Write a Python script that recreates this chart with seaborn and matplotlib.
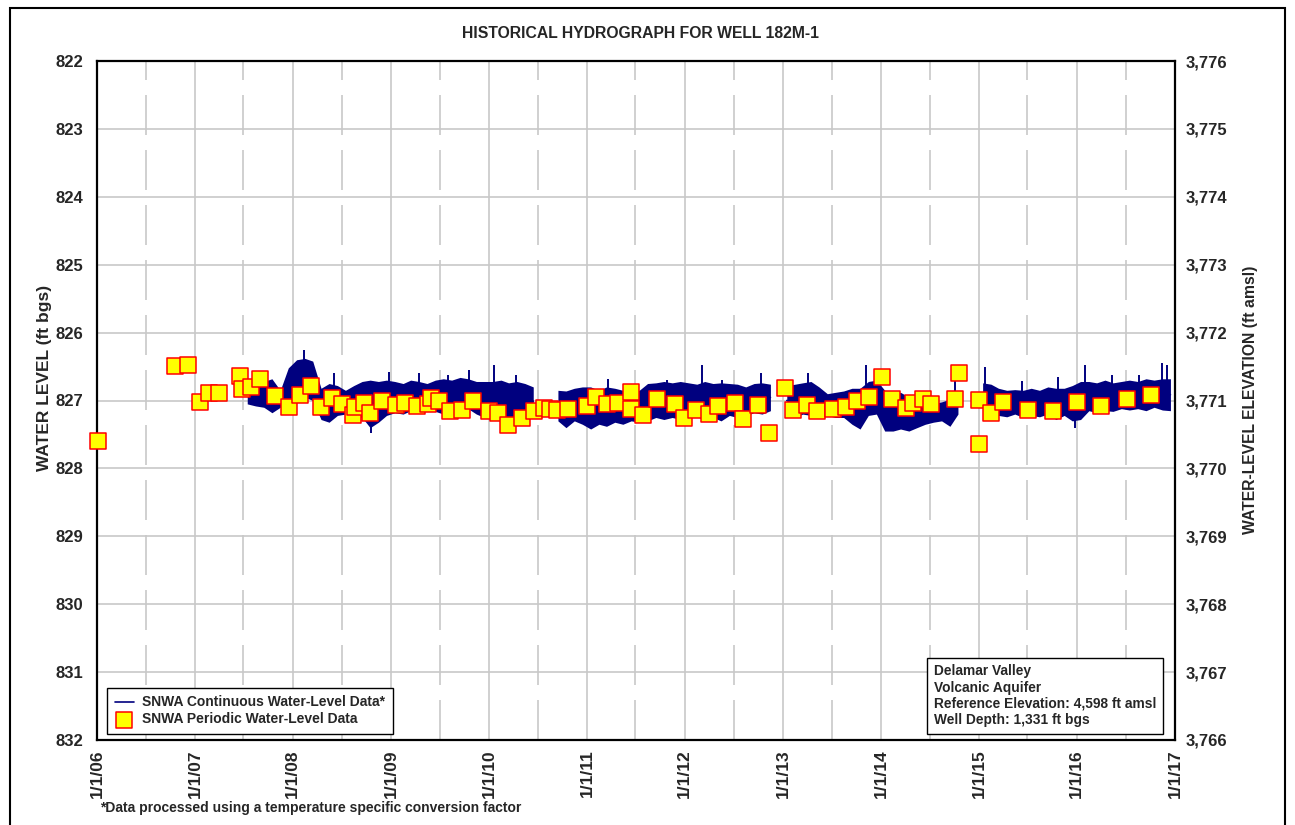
import numpy as np
import pandas as pd
import matplotlib
matplotlib.use("Agg")
import matplotlib.pyplot as plt
import matplotlib.dates as mdates
from matplotlib.patches import Rectangle
from matplotlib.ticker import MultipleLocator, FuncFormatter
import seaborn as sns

sns.set_style("white")
plt.rcParams['font.family'] = ['Liberation Sans', 'DejaVu Sans']
plt.rcParams['font.weight'] = 'bold'

# periodic (manual) measurements, ft bgs
periodic_dates = [
    "2006-01-05", "2006-10-18", "2006-12-05", "2007-01-19", "2007-02-22", "2007-03-31",
    "2007-06-17", "2007-06-24", "2007-07-28", "2007-08-31", "2007-10-25", "2007-12-16",
    "2008-01-26", "2008-03-07", "2008-04-14", "2008-05-25", "2008-07-04", "2008-08-11",
    "2008-08-19", "2008-09-21", "2008-10-13", "2008-11-27", "2009-01-19", "2009-02-22",
    "2009-04-07", "2009-05-18", "2009-05-29", "2009-06-28", "2009-08-08", "2009-09-22",
    "2009-11-02", "2010-01-01", "2010-02-03", "2010-03-12", "2010-05-03", "2010-06-17",
    "2010-07-24", "2010-08-15", "2010-09-11", "2010-10-22", "2011-01-01", "2011-02-03",
    "2011-03-16", "2011-04-26", "2011-06-13", "2011-06-14", "2011-07-28", "2011-09-18",
    "2011-11-24", "2011-12-28", "2012-02-11", "2012-03-30", "2012-05-03", "2012-07-05",
    "2012-08-04", "2012-09-29", "2012-11-09", "2013-01-08", "2013-02-07", "2013-03-31",
    "2013-05-07", "2013-07-05", "2013-08-23", "2013-10-03", "2013-11-17", "2014-01-04",
    "2014-02-11", "2014-04-04", "2014-04-30", "2014-06-06", "2014-07-05", "2014-10-03",
    "2014-10-18", "2015-01-01", "2015-01-02", "2015-02-14", "2015-03-31", "2015-07-02",
    "2015-10-03", "2016-01-01", "2016-03-30", "2016-07-05", "2016-10-03",
]
periodic_levels = [
    827.60, 826.49, 826.47, 827.02, 826.89, 826.89,
    826.64, 826.83, 826.80, 826.68, 826.93, 827.10,
    826.92, 826.79, 827.10, 826.96, 827.05, 827.21,
    827.10, 827.04, 827.18, 827.01, 827.07, 827.04,
    827.08, 827.05, 826.96, 827.01, 827.15, 827.14,
    827.01, 827.15, 827.18, 827.36, 827.26, 827.15,
    827.11, 827.13, 827.14, 827.13, 827.08, 826.95,
    827.05, 827.04, 826.87, 827.13, 827.21, 826.98,
    827.05, 827.26, 827.14, 827.20, 827.08, 827.04,
    827.27, 827.07, 827.48, 826.82, 827.14, 827.07,
    827.15, 827.13, 827.10, 827.01, 826.95, 826.65,
    826.98, 827.11, 827.04, 826.98, 827.05, 826.98,
    826.59, 826.99, 827.64, 827.18, 827.02, 827.14,
    827.15, 827.02, 827.08, 826.98, 826.92,
]

# continuous transducer record: monthly shallowest / deepest typical reading (Jul 2007 - Dec 2016)
nan = np.nan
cont_top = [
    826.82, 826.75, 826.72, 826.68, 826.85, 826.52,
    826.40, 826.38, 826.42, 826.82, 826.75, 826.78, 826.85, 826.78, 826.72, 826.70, 826.72, 826.70,
    826.72, 826.75, 826.70, 826.72, 826.75, 826.70, 826.68, 826.70, 826.66, 826.68, 826.72, 826.72,
    826.72, 826.70, 826.74, 826.72, 826.75, 826.80, nan, nan, 826.85, 826.86, 826.82, 826.80,
    826.80, 826.85, 826.80, 826.82, 826.85, 826.80, 826.85, 826.75, 826.74, 826.72, 826.74, 826.72,
    826.74, 826.76, 826.72, 826.75, 826.74, 826.75, 826.76, 826.80, 826.75, 826.74, 826.76, nan,
    826.78, 826.76, 826.74, 826.72, 826.80, 826.90, 826.88, 826.86, 826.82, 826.82, 826.72, 826.70,
    826.85, 826.90, 826.88, 826.95, 827.00, 827.02, 827.04, 827.02, 826.98, 826.95, nan, nan,
    826.74, 826.76, 826.82, 826.85, 826.84, 826.85, 826.82, 826.85, 826.80, 826.82, 826.82, 826.78,
    826.72, 826.72, 826.74, 826.70, 826.74, 826.72, 826.70, 826.72, 826.68, 826.70, 826.68, 826.68,
]
cont_bottom = [
    827.05, 827.08, 827.10, 827.18, 827.10, 826.98,
    826.97, 826.95, 827.00, 827.28, 827.32, 827.22, 827.20, 827.22, 827.25, 827.40, 827.32, 827.22,
    827.18, 827.20, 827.15, 827.18, 827.12, 827.16, 827.20, 827.15, 827.18, 827.12, 827.20, 827.25,
    827.28, 827.30, 827.35, 827.30, 827.28, 827.22, nan, nan, 827.30, 827.40, 827.30, 827.35,
    827.42, 827.35, 827.38, 827.32, 827.35, 827.30, 827.32, 827.30, 827.25, 827.28, 827.25, 827.28,
    827.25, 827.24, 827.28, 827.25, 827.30, 827.22, 827.25, 827.22, 827.18, 827.20, 827.15, nan,
    827.22, 827.25, 827.20, 827.22, 827.20, 827.22, 827.25, 827.25, 827.35, 827.42, 827.22, 827.20,
    827.45, 827.45, 827.42, 827.45, 827.40, 827.35, 827.32, 827.30, 827.38, 827.20, nan, nan,
    827.22, 827.25, 827.22, 827.24, 827.20, 827.25, 827.22, 827.24, 827.20, 827.28, 827.22, 827.30,
    827.28, 827.15, 827.18, 827.15, 827.16, 827.12, 827.14, 827.12, 827.15, 827.10, 827.14, 827.15,
]

# short-lived excursions in the continuous record
spike_dates = [
    "2008-02-10", "2008-06-01", "2008-10-20", "2008-12-25", "2009-04-15", "2009-08-01",
    "2009-10-20", "2010-01-20", "2010-04-10", "2011-03-20", "2011-10-27", "2012-03-04",
    "2012-05-20", "2012-10-10", "2013-04-04", "2013-11-05", "2014-10-05", "2015-01-23",
    "2015-06-10", "2015-10-22", "2015-12-25", "2016-01-30", "2016-05-10", "2016-08-20",
    "2016-11-12", "2016-12-01",
]
spike_levels = [
    826.26, 826.59, 827.48, 826.58, 826.59, 826.62,
    826.55, 826.48, 826.62, 826.68, 826.70, 826.48,
    826.70, 826.60, 826.60, 826.48, 826.60, 826.51,
    826.72, 826.65, 827.40, 826.48, 826.62, 826.62,
    826.45, 826.48,
]

ref_elev = 4598
navy = "#00007f"

cont_dates = pd.date_range("2007-07-01", periods=len(cont_top), freq="MS") + pd.Timedelta(days=14)
top = np.array(cont_top)
seg = np.cumsum(np.isnan(top))
cont = pd.DataFrame({
    "date": np.concatenate([cont_dates, cont_dates]),
    "depth": np.concatenate([cont_top, cont_bottom]),
    "seg": np.concatenate([seg, seg]),
}).dropna()

fig = plt.figure(figsize=(12.95, 8.25), dpi=100)
ax = fig.add_axes([97 / 1295, 1 - 740 / 825, (1175 - 97) / 1295, (740 - 61) / 825])

first = True
for s, sub in cont.groupby("seg"):
    sns.lineplot(data=sub, x="date", y="depth", errorbar=("pi", 100), color=navy, lw=1.2,
                 err_kws={"alpha": 1, "linewidth": 0}, ax=ax,
                 label="SNWA Continuous Water-Level Data*" if first else None)
    first = False
ax.vlines(pd.to_datetime(spike_dates), spike_levels, 827.0, color=navy, lw=1.4)

sns.scatterplot(x=pd.to_datetime(periodic_dates), y=periodic_levels, marker="s", s=128,
                color="yellow", edgecolor="red", linewidth=1.1, ax=ax, zorder=5, clip_on=False,
                label="SNWA Periodic Water-Level Data")

ax.set_xlim(pd.Timestamp("2006-01-01"), pd.Timestamp("2017-01-01"))
ax.set_ylim(832, 822)
ax.yaxis.set_major_locator(MultipleLocator(1))
ax.xaxis.set_major_locator(mdates.YearLocator())
ax.xaxis.set_minor_locator(mdates.MonthLocator(bymonth=7))
ax.xaxis.set_major_formatter(FuncFormatter(
    lambda v, p: "{d.month}/{d.day}/{y}".format(d=mdates.num2date(v), y=mdates.num2date(v).strftime("%y"))))
ax.grid(which="major", axis="both", color="#c8c8c8", lw=1.2)
ax.grid(which="minor", axis="x", color="#c8c8c8", lw=1.2, ls=(0, (24, 9)))
ax.set_axisbelow(True)
ax.set_xlabel("")
ax.set_ylabel("")
ax.tick_params(axis="y", which="both", length=0, labelsize=12, pad=10)
ax.tick_params(axis="x", which="both", length=0, labelsize=12.5, pad=7)
plt.setp(ax.get_xticklabels(), rotation=90, fontweight="bold")
plt.setp(ax.get_yticklabels(), fontweight="bold")
for sp in ax.spines.values():
    sp.set_color("black")
    sp.set_linewidth(1.6)

ax2 = ax.twinx()
ax2.set_ylim(ref_elev - 832, ref_elev - 822)
ax2.yaxis.set_major_locator(MultipleLocator(1))
ax2.yaxis.set_major_formatter(FuncFormatter(lambda v, p: f"{v:,.0f}"))
ax2.tick_params(axis="y", length=0, labelsize=12, pad=8)
plt.setp(ax2.get_yticklabels(), fontweight="bold")
for sp in ax2.spines.values():
    sp.set_visible(False)

leg = ax.legend(loc="lower left", bbox_to_anchor=(0.0093, 0.009), borderaxespad=0,
                frameon=True, fancybox=False, edgecolor="black", framealpha=1,
                prop={"size": 10, "weight": "bold"}, handlelength=1.4, handletextpad=0.6,
                labelspacing=0.2, borderpad=0.55)
leg.get_frame().set_linewidth(1.0)
leg.set_zorder(7)

info = "Delamar Valley\nVolcanic Aquifer\nReference Elevation: 4,598 ft amsl\nWell Depth: 1,331 ft bgs"
ax.text((934 - 97) / 1078, (740 - 727) / 679, info, transform=ax.transAxes, ha="left", va="bottom",
        fontsize=9.9, fontweight="bold", linespacing=1.2, zorder=6,
        bbox=dict(boxstyle="square,pad=0.5", fc="white", ec="black", lw=1.0))

fig.text(641 / 1295, 1 - 33 / 825, "HISTORICAL HYDROGRAPH FOR WELL 182M-1", ha="center", va="center",
         fontsize=11.3, fontweight="bold")
fig.text(45 / 1295, 1 - 378 / 825, "WATER LEVEL (ft bgs)", rotation=90, ha="center", va="center",
         fontsize=12.5, fontweight="bold")
fig.text(1250 / 1295, 1 - 400 / 825, "WATER-LEVEL ELEVATION (ft amsl)", rotation=90, ha="center",
         va="center", fontsize=11.3, fontweight="bold")
fig.text(100 / 1295, 1 - 808 / 825, "*Data processed using a temperature specific conversion factor",
         ha="left", va="center", fontsize=10, fontweight="bold")

fig.add_artist(Rectangle((10 / 1295, -0.05), (1285 - 10) / 1295, 1.05 - 8 / 825,
                         transform=fig.transFigure, fill=False, ec="black", lw=1.5))

fig.savefig("out.png", dpi=100)
